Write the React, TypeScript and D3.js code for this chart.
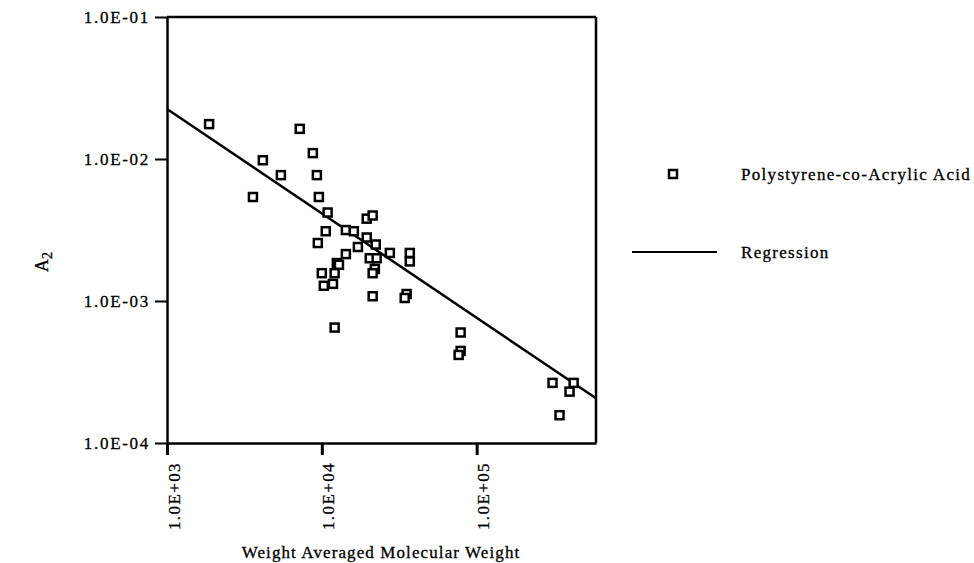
import React, { useEffect, useRef } from 'react'
import * as d3 from 'd3'

// weight averaged molecular weight and A2
const molWeight = [
  1870, 7200, 4160, 5440, 8750, 9290, 3590, 9570, 10900, 10600,
  9420, 14300, 16100, 19500, 21300, 19500, 17100, 22300, 14300, 12500,
  12900, 20400, 22600, 27500, 37000, 37000, 22000, 21300, 10000, 12100,
  10300, 11800, 21300, 35300, 34300, 12100, 78800, 78800, 76500, 309000,
  423000, 398000, 343000,
]
const a2 = [
  0.0176, 0.0163, 0.0098, 0.0077, 0.011, 0.0077, 0.0054, 0.0054, 0.0042, 0.0031,
  0.00256, 0.00316, 0.0031, 0.0038, 0.004, 0.0028, 0.0024, 0.0025, 0.00214, 0.00185,
  0.0018, 0.002, 0.002, 0.00218, 0.00218, 0.0019, 0.00168, 0.00157, 0.00157, 0.00157,
  0.00128, 0.00132, 0.00108, 0.00112, 0.00105, 0.00065, 0.0006, 0.000445, 0.000417, 0.000265,
  0.000265, 0.00023, 0.000157,
]

// log10(A2) = intercept + slope * log10(Mw)
const regIntercept = 0.557
const regSlope = -0.735

const xTickValues = [1e3, 1e4, 1e5]
const xTickLabels = ['1.0E+03', '1.0E+04', '1.0E+05']
const yTickValues = [1e-1, 1e-2, 1e-3, 1e-4]
const yTickLabels = ['1.0E-01', '1.0E-02', '1.0E-03', '1.0E-04']

const font = "'Liberation Serif', 'DejaVu Serif', serif"

export default function App() {
  const ref = useRef<SVGSVGElement>(null)

  useEffect(() => {
    const svg = d3.select(ref.current)
    svg.selectAll('*').remove()

    const left = 167, right = 596, top = 17, bottom = 443

    const x = d3.scaleLog().domain([1e3, 5.9e5]).range([left, right])
    const y = d3.scaleLog().domain([1e-4, 1e-1]).range([bottom, top])

    // frame top / right
    svg.append('line')
      .attr('x1', left).attr('x2', right).attr('y1', top).attr('y2', top)
      .attr('stroke', '#000').attr('stroke-width', 2.5)
    svg.append('line')
      .attr('x1', right).attr('x2', right).attr('y1', top).attr('y2', bottom)
      .attr('stroke', '#000').attr('stroke-width', 2.5)

    const yAxis = svg.append('g')
      .attr('transform', `translate(${left},0)`)
      .call(d3.axisLeft(y).tickValues(yTickValues).tickSize(12).tickSizeOuter(0)
        .tickFormat((d, i) => yTickLabels[i]))
    yAxis.select('.domain').attr('stroke-width', 2.5)
    yAxis.selectAll('.tick line').attr('stroke-width', 2)
    yAxis.selectAll('.tick text')
      .attr('x', -17)
      .style('font-family', font).style('font-size', '17px')
      .attr('letter-spacing', 1.7)
      .attr('fill', '#000').attr('stroke', '#000').attr('stroke-width', 0.3)

    const xAxis = svg.append('g')
      .attr('transform', `translate(0,${bottom})`)
      .call(d3.axisBottom(x).tickValues(xTickValues).tickSize(12).tickSizeOuter(0)
        .tickFormat((d, i) => xTickLabels[i]))
    xAxis.select('.domain').attr('stroke-width', 2.5)
    xAxis.selectAll('.tick line').attr('stroke-width', 3)
    xAxis.selectAll('.tick text')
      .attr('x', 0).attr('y', 0).attr('dy', 0)
      .attr('transform', 'translate(12,19) rotate(-90)')
      .attr('text-anchor', 'end')
      .style('font-family', font).style('font-size', '17px')
      .attr('letter-spacing', 1.4)
      .attr('fill', '#000').attr('stroke', '#000').attr('stroke-width', 0.3)

    // regression line
    const xd = x.domain()
    svg.append('line')
      .attr('x1', x(xd[0])).attr('y1', y(Math.pow(10, regIntercept + regSlope * Math.log10(xd[0]))))
      .attr('x2', x(xd[1])).attr('y2', y(Math.pow(10, regIntercept + regSlope * Math.log10(xd[1]))))
      .attr('stroke', '#000').attr('stroke-width', 2.5)

    // data points
    svg.append('g').selectAll('rect')
      .data(molWeight)
      .enter()
      .append('rect')
      .attr('x', (d) => x(d) - 4)
      .attr('y', (d, i) => y(a2[i]) - 4)
      .attr('width', 8).attr('height', 8)
      .attr('fill', '#fff').attr('stroke', '#000').attr('stroke-width', 2.5)

    // axis titles
    svg.append('text')
      .attr('x', 381).attr('y', 558)
      .attr('text-anchor', 'middle')
      .style('font-family', font).style('font-size', '17px').attr('letter-spacing', 1.1)
      .attr('stroke', '#000').attr('stroke-width', 0.3)
      .text('Weight Averaged Molecular Weight')

    const yt = svg.append('text')
      .attr('transform', 'translate(48,262) rotate(-90)')
      .attr('text-anchor', 'middle')
      .style('font-family', font).style('font-size', '18px')
      .attr('stroke', '#000').attr('stroke-width', 0.3)
    yt.append('tspan').text('A')
    yt.append('tspan').attr('dy', 4).style('font-size', '14px').text('2')

    // legend
    const legend = svg.append('g')
    legend.append('rect')
      .attr('x', 669).attr('y', 170).attr('width', 8).attr('height', 8)
      .attr('fill', '#fff').attr('stroke', '#000').attr('stroke-width', 2.5)
    legend.append('text')
      .attr('x', 741).attr('y', 180)
      .style('font-family', font).style('font-size', '17px').attr('letter-spacing', 1.3)
      .attr('stroke', '#000').attr('stroke-width', 0.3)
      .text('Polystyrene-co-Acrylic Acid')
    legend.append('line')
      .attr('x1', 632).attr('x2', 717).attr('y1', 252).attr('y2', 252)
      .attr('stroke', '#000').attr('stroke-width', 2)
    legend.append('text')
      .attr('x', 741).attr('y', 258)
      .style('font-family', font).style('font-size', '17px').attr('letter-spacing', 1.3)
      .attr('stroke', '#000').attr('stroke-width', 0.3)
      .text('Regression')
  }, [])

  return (
    <svg
      ref={ref}
      width={974}
      height={563}
      style={{ position: 'absolute', left: 0, top: 0, background: '#fff' }}
    />
  )
}
